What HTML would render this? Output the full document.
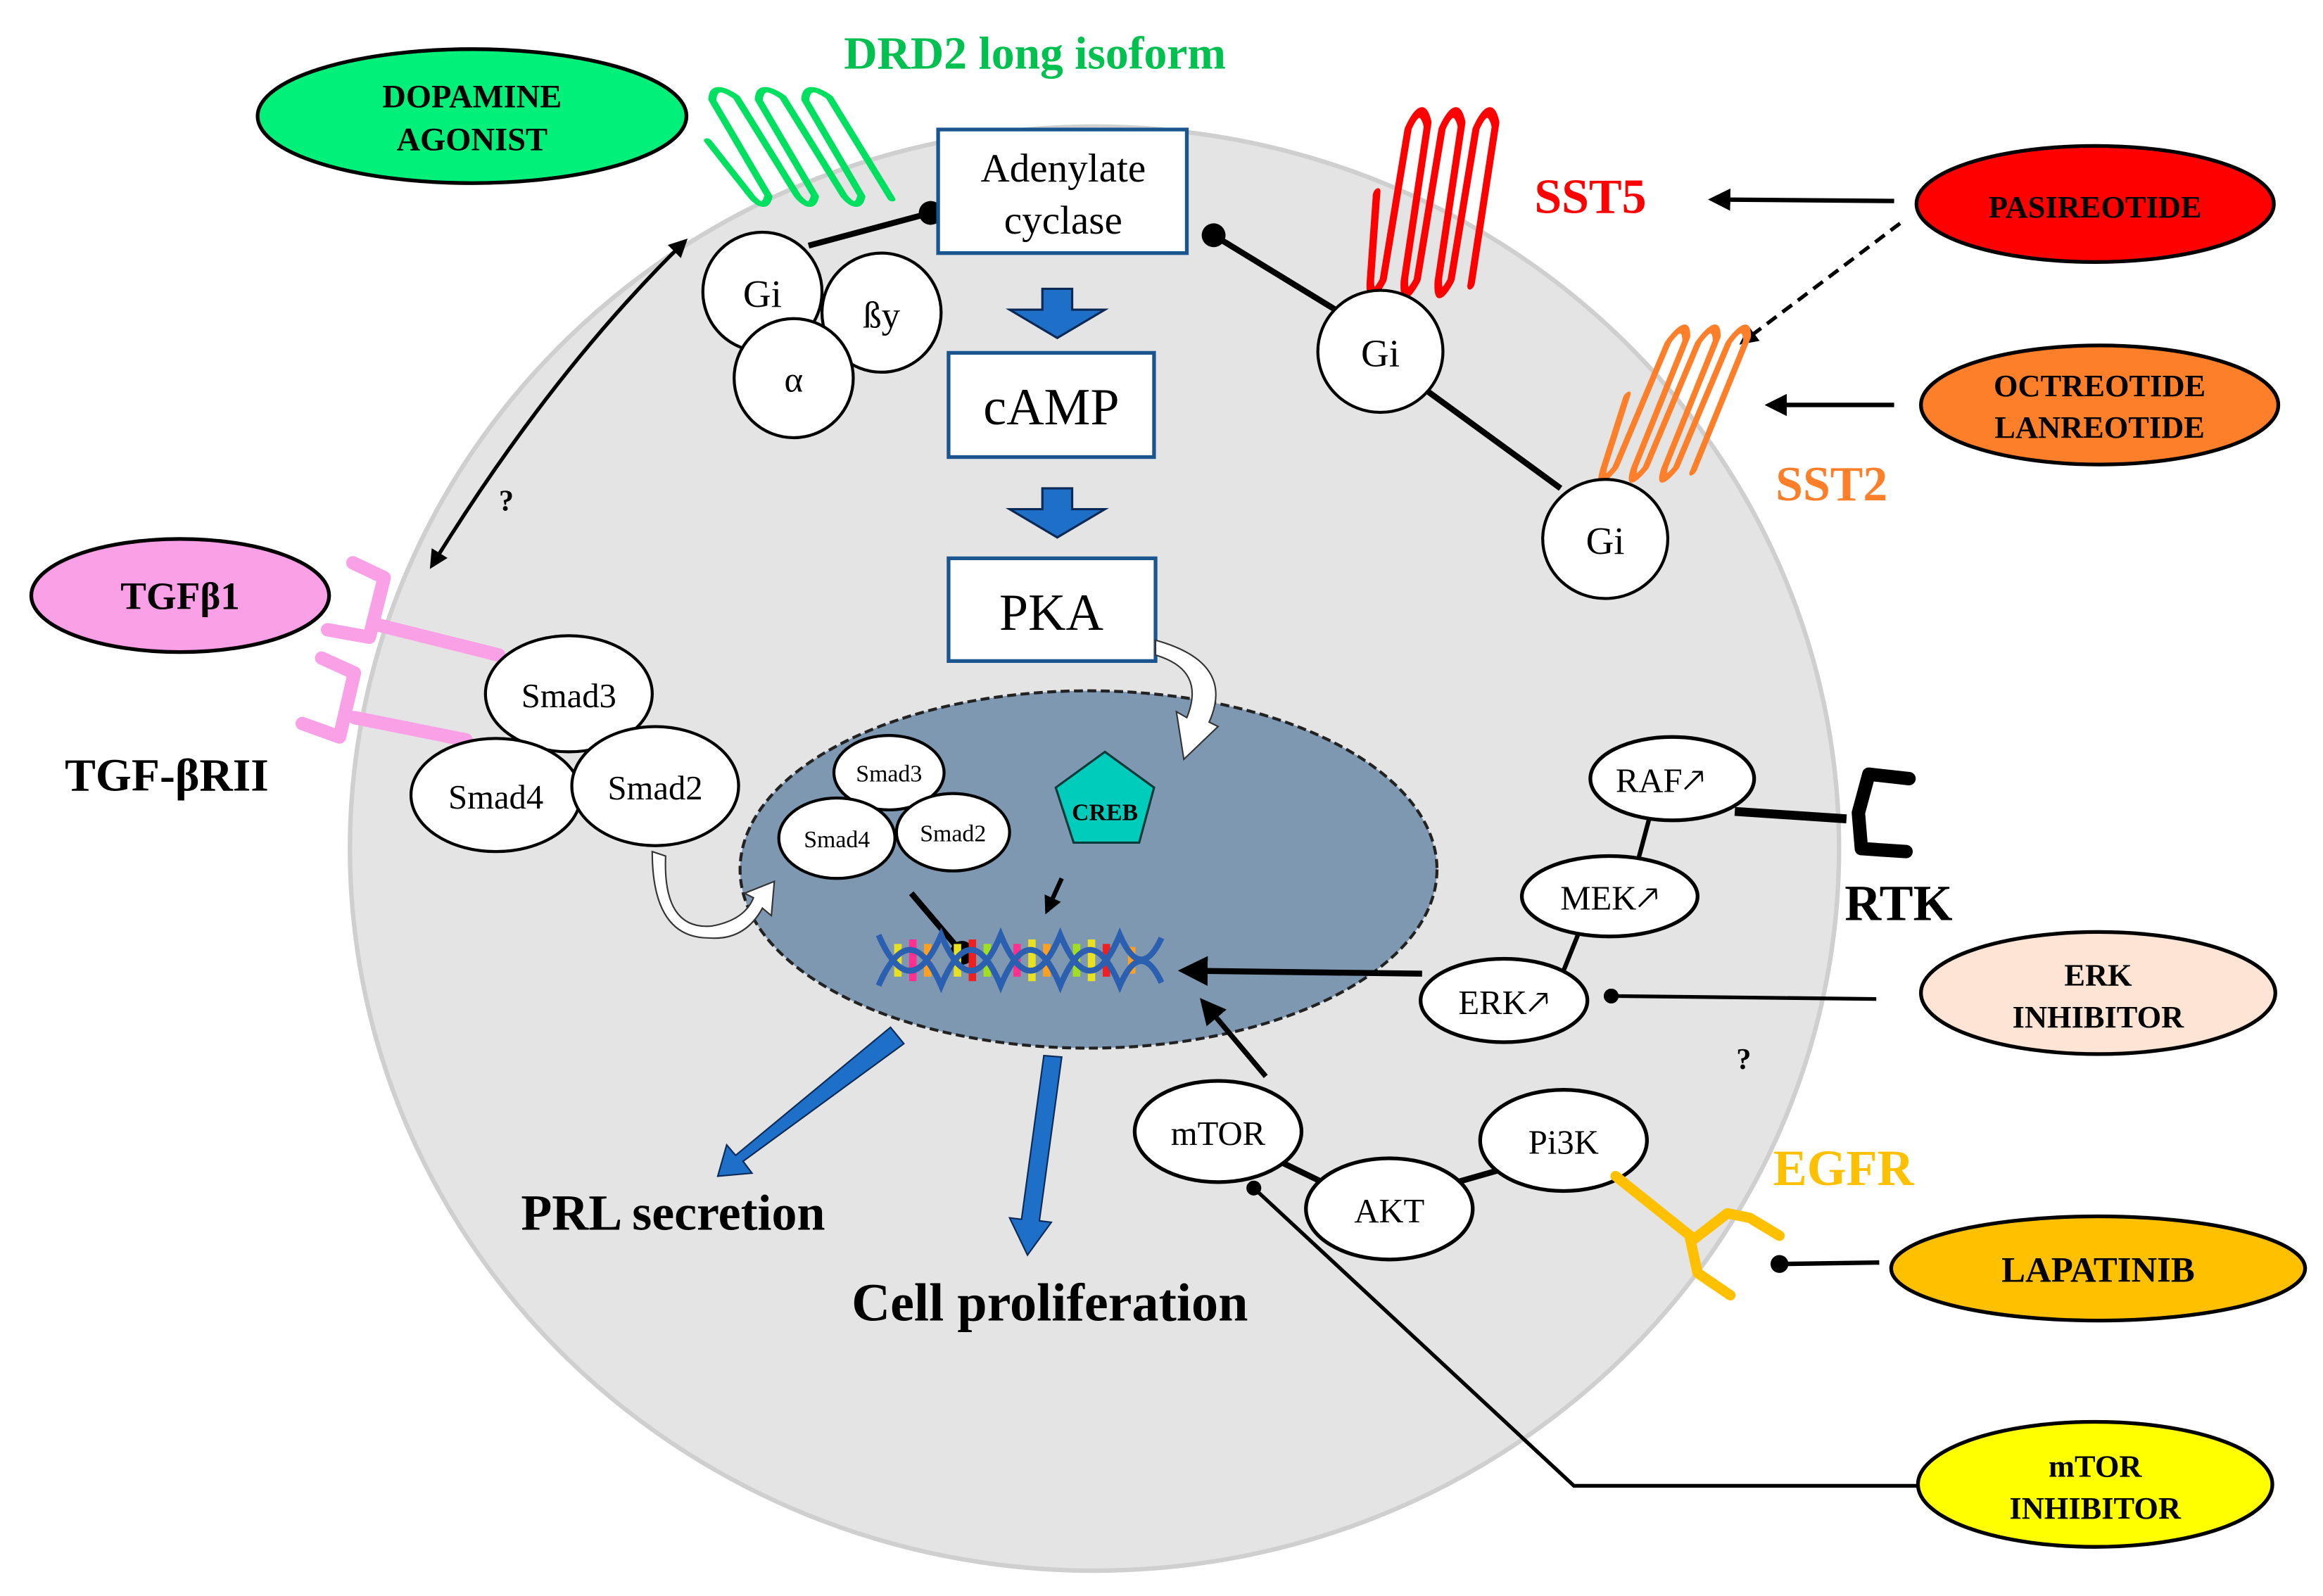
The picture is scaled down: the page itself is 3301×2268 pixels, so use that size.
<!DOCTYPE html>
<html><head><meta charset="utf-8"><style>
html,body{margin:0;padding:0;background:#fff;}
svg{display:block;}
text{font-family:"Liberation Serif",serif;}
</style></head><body>
<svg width="3301" height="2268" viewBox="0 0 1560 1072" preserveAspectRatio="none" xmlns="http://www.w3.org/2000/svg">
<defs>
<marker id="ah" viewBox="0 0 10 10" refX="8" refY="5" markerWidth="5" markerHeight="5" orient="auto-start-reverse"><path d="M0,0 L10,5 L0,10 z" fill="#000"/></marker>
<marker id="ahb" viewBox="0 0 10 10" refX="8" refY="5" markerWidth="4" markerHeight="4" orient="auto"><path d="M0,0 L10,5 L0,10 z" fill="#000"/></marker>
<marker id="dot" viewBox="0 0 10 10" refX="5" refY="5" markerWidth="4" markerHeight="4" orient="auto"><circle cx="5" cy="5" r="5" fill="#000"/></marker>
<path id="coil" d="M0,40 L12,80 Q16,92 21,80 L10,10 Q14,-4 23,8 L36,80 Q40,92 45,80 L34,10 Q38,-4 47,8 L60,80 Q64,92 69,80 L58,10 Q62,-4 71,8 L84,82" fill="none" stroke-linejoin="round" stroke-linecap="round"/>
</defs>

<ellipse cx="735" cy="570" rx="500" ry="485" fill="#e4e4e4" stroke="#cfcfcf" stroke-width="3"/>
<ellipse cx="731" cy="584" rx="234" ry="120" fill="#7f98b2" stroke="#222" stroke-width="2" stroke-dasharray="6,3"/>

<!-- DRD2 -->
<text x="695" y="46" font-size="31" font-weight="bold" fill="#00c050" text-anchor="middle">DRD2 long isoform</text>
<ellipse cx="317" cy="78" rx="144" ry="45" fill="#00f07a" stroke="#000" stroke-width="2.5"/>
<text x="317" y="72" font-size="22" font-weight="bold" text-anchor="middle">DOPAMINE</text>
<text x="317" y="101" font-size="22" font-weight="bold" text-anchor="middle">AGONIST</text>
<use href="#coil" transform="translate(462,58) skewX(20) scale(1.3,0.92)" stroke="#00e060" stroke-width="4"/>

<!-- Gi complex -->
<line x1="543" y1="165" x2="625" y2="143" stroke="#000" stroke-width="4" marker-end="url(#dot)"/>
<ellipse cx="512" cy="196" rx="40" ry="40" fill="#fff" stroke="#000" stroke-width="2"/>
<text x="512" y="206" font-size="26" text-anchor="middle">Gi</text>
<ellipse cx="592" cy="210" rx="40" ry="40" fill="#fff" stroke="#000" stroke-width="2"/>
<text x="592" y="220" font-size="25" text-anchor="middle">ßy</text>
<ellipse cx="533" cy="254" rx="40" ry="40" fill="#fff" stroke="#000" stroke-width="2"/>
<text x="533" y="263" font-size="24" text-anchor="middle">α</text>

<!-- AC / cAMP / PKA -->
<rect x="630" y="87" width="167" height="83" fill="#fff" stroke="#1a5590" stroke-width="2.5"/>
<text x="714" y="122" font-size="27" text-anchor="middle">Adenylate</text>
<text x="714" y="157" font-size="27" text-anchor="middle">cyclase</text>
<path d="M700,194 L720,194 L720,208 L742,208 L710,227 L678,208 L700,208 z" fill="#1e6fc8" stroke="#0a2a55" stroke-width="1.5"/>
<rect x="637" y="237" width="138" height="70" fill="#fff" stroke="#1a5590" stroke-width="2.5"/>
<text x="706" y="285" font-size="35" text-anchor="middle">cAMP</text>
<path d="M700,328 L720,328 L720,342 L742,342 L710,361 L678,342 L700,342 z" fill="#1e6fc8" stroke="#0a2a55" stroke-width="1.5"/>
<rect x="637" y="375" width="139" height="69" fill="#fff" stroke="#1a5590" stroke-width="2.5"/>
<text x="706" y="423" font-size="35" text-anchor="middle">PKA</text>
<path d="M776,430 Q830,445 812,485 L818,488 L795,510 L790,478 L797,482 Q810,450 776,440 z" fill="#fff" stroke="#333" stroke-width="1"/>

<!-- SST5 -->
<use href="#coil" transform="translate(940,72) skewX(-15) scale(0.95,1.45)" stroke="#ff0000" stroke-width="5"/>
<text x="1068" y="143" font-size="33" font-weight="bold" fill="#ff0000" text-anchor="middle">SST5</text>
<ellipse cx="1407" cy="137" rx="120" ry="39" fill="#ff0000" stroke="#000" stroke-width="2.5"/>
<text x="1407" y="146" font-size="21" font-weight="bold" text-anchor="middle">PASIREOTIDE</text>
<line x1="1272" y1="135" x2="1150" y2="134" stroke="#000" stroke-width="3" marker-end="url(#ah)"/>
<line x1="1276" y1="150" x2="1170" y2="230" stroke="#000" stroke-width="2.5" stroke-dasharray="8,5" marker-end="url(#ah)"/>

<!-- SST2 -->
<use href="#coil" transform="translate(1118,218) skewX(-28) scale(0.85,1.2)" stroke="#fe7f2a" stroke-width="5"/>
<text x="1230" y="336" font-size="33" font-weight="bold" fill="#fe7f2a" text-anchor="middle">SST2</text>
<ellipse cx="1410" cy="272" rx="120" ry="40" fill="#fe7f2a" stroke="#000" stroke-width="2.5"/>
<text x="1410" y="266" font-size="21" font-weight="bold" text-anchor="middle">OCTREOTIDE</text>
<text x="1410" y="294" font-size="21" font-weight="bold" text-anchor="middle">LANREOTIDE</text>
<line x1="1272" y1="272" x2="1188" y2="272" stroke="#000" stroke-width="3" marker-end="url(#ah)"/>

<!-- Gi right -->
<line x1="1048" y1="328" x2="948" y2="255" stroke="#000" stroke-width="4"/>
<line x1="900" y1="210" x2="815" y2="158" stroke="#000" stroke-width="4" marker-end="url(#dot)"/>
<ellipse cx="927" cy="236" rx="42" ry="41" fill="#fff" stroke="#000" stroke-width="2"/>
<text x="927" y="246" font-size="26" text-anchor="middle">Gi</text>
<ellipse cx="1078" cy="362" rx="42" ry="40" fill="#fff" stroke="#000" stroke-width="2"/>
<text x="1078" y="372" font-size="26" text-anchor="middle">Gi</text>

<path d="M290,380 Q370,250 460,162" fill="none" stroke="#000" stroke-width="2.5" marker-start="url(#ah)" marker-end="url(#ah)"/>
<text x="340" y="343" font-size="20" font-weight="bold" text-anchor="middle">?</text>

<!-- TGF -->
<ellipse cx="121" cy="400" rx="100" ry="38" fill="#f9a0e6" stroke="#000" stroke-width="2.5"/>
<text x="121" y="409" font-size="26" font-weight="bold" text-anchor="middle">TGFβ1</text>
<g fill="none" stroke="#f9a0e6" stroke-width="9" stroke-linecap="round" stroke-linejoin="round">
<path d="M237,378 L258,388 L248,428 L220,423"/>
<path d="M255,420 L335,440"/>
<path d="M216,442 L238,452 L228,495 L203,486"/>
<path d="M238,482 L313,497"/>
</g>
<text x="112" y="531" font-size="31" font-weight="bold" text-anchor="middle">TGF-βRII</text>
<ellipse cx="382" cy="466" rx="56" ry="39" fill="#fff" stroke="#000" stroke-width="2"/>
<text x="382" y="475" font-size="23" text-anchor="middle">Smad3</text>
<ellipse cx="333" cy="534" rx="57" ry="38" fill="#fff" stroke="#000" stroke-width="2"/>
<text x="333" y="543" font-size="23" text-anchor="middle">Smad4</text>
<ellipse cx="440" cy="528" rx="56" ry="40" fill="#fff" stroke="#000" stroke-width="2"/>
<text x="440" y="537" font-size="23" text-anchor="middle">Smad2</text>
<path d="M438,572 L447,575 Q445,625 478,622 Q500,618 506,603 L500,600 L520,592 L518,615 L512,610 Q500,632 476,630 Q438,630 438,572 z" fill="#fff" stroke="#333" stroke-width="1"/>

<!-- nucleus contents -->
<ellipse cx="597" cy="519" rx="37" ry="25" fill="#fff" stroke="#000" stroke-width="2"/>
<text x="597" y="525" font-size="16" text-anchor="middle">Smad3</text>
<ellipse cx="562" cy="563" rx="39" ry="27" fill="#fff" stroke="#000" stroke-width="2"/>
<text x="562" y="569" font-size="16" text-anchor="middle">Smad4</text>
<ellipse cx="640" cy="559" rx="38" ry="26" fill="#fff" stroke="#000" stroke-width="2"/>
<text x="640" y="565" font-size="16" text-anchor="middle">Smad2</text>
<polygon points="742,505 775,529 765,566 721,566 709,529" fill="#00ccbb" stroke="#0a3a3a" stroke-width="1.5"/>
<text x="742" y="551" font-size="16" font-weight="bold" text-anchor="middle">CREB</text>
<line x1="612" y1="600" x2="646" y2="640" stroke="#000" stroke-width="4" marker-end="url(#dot)"/>
<line x1="713" y1="590" x2="703" y2="612" stroke="#000" stroke-width="3" marker-end="url(#ahb)"/>
<g>
<g stroke-width="5">
<line x1="603" y1="634" x2="603" y2="656" stroke="#e8e020"/><line x1="613" y1="631" x2="613" y2="659" stroke="#ff3090"/><line x1="623" y1="634" x2="623" y2="656" stroke="#ffa020"/>
<line x1="643" y1="634" x2="643" y2="656" stroke="#e8e020"/><line x1="653" y1="631" x2="653" y2="659" stroke="#f02020"/><line x1="663" y1="634" x2="663" y2="656" stroke="#a0e020"/>
<line x1="683" y1="634" x2="683" y2="656" stroke="#ff3090"/><line x1="693" y1="631" x2="693" y2="659" stroke="#e8e020"/><line x1="703" y1="634" x2="703" y2="656" stroke="#ffa020"/>
<line x1="723" y1="634" x2="723" y2="656" stroke="#a0e020"/><line x1="733" y1="631" x2="733" y2="659" stroke="#e8e020"/><line x1="743" y1="634" x2="743" y2="656" stroke="#f02020"/>
<line x1="760" y1="636" x2="760" y2="654" stroke="#ffa020"/>
</g>
<path d="M590,628 Q611,676 632,628 Q652,676 672,628 Q692,676 712,628 Q732,676 752,628 Q766,660 780,630" fill="none" stroke="#2b5fb0" stroke-width="4"/>
<path d="M590,662 Q611,614 632,662 Q652,614 672,662 Q692,614 712,662 Q732,614 752,662 Q766,630 780,660" fill="none" stroke="#2b5fb0" stroke-width="4"/>
</g>

<path d="M598,690 L607,701 L499,780 L505,788 L482,790 L488,769 L494,776 z" fill="#1e6fc8" stroke="#0a2a55" stroke-width="1"/>
<path d="M701,709 L713,710 L698,820 L706,821 L690,843 L678,818 L686,819 z" fill="#1e6fc8" stroke="#0a2a55" stroke-width="1"/>
<text x="452" y="826" font-size="34" font-weight="bold" text-anchor="middle">PRL secretion</text>
<text x="705" y="887" font-size="36" font-weight="bold" text-anchor="middle">Cell proliferation</text>

<!-- MAPK -->
<line x1="1108" y1="548" x2="1100" y2="578" stroke="#000" stroke-width="3"/>
<line x1="1060" y1="627" x2="1050" y2="652" stroke="#000" stroke-width="3"/>
<ellipse cx="1123" cy="523" rx="55" ry="28" fill="#fff" stroke="#000" stroke-width="2.5"/>
<text x="1115" y="532" font-size="23" text-anchor="middle">RAF🡕</text>
<ellipse cx="1081" cy="602" rx="59" ry="27" fill="#fff" stroke="#000" stroke-width="2.5"/>
<text x="1081" y="611" font-size="23" text-anchor="middle">MEK🡕</text>
<ellipse cx="1010" cy="672" rx="56" ry="28" fill="#fff" stroke="#000" stroke-width="2.5"/>
<text x="1010" y="681" font-size="23" text-anchor="middle">ERK🡕</text>
<line x1="955" y1="654" x2="795" y2="652" stroke="#000" stroke-width="4" marker-end="url(#ah)"/>
<path d="M1165,545 L1240,550" stroke="#000" stroke-width="6"/>
<path d="M1282,523 L1255,520 L1248,546 L1250,570 L1280,572" fill="none" stroke="#000" stroke-width="9" stroke-linecap="round" stroke-linejoin="round"/>
<text x="1275" y="618" font-size="34" font-weight="bold" text-anchor="middle">RTK</text>
<ellipse cx="1409" cy="667" rx="119" ry="41" fill="#fde4d4" stroke="#000" stroke-width="2.5"/>
<text x="1409" y="662" font-size="21" font-weight="bold" text-anchor="middle">ERK</text>
<text x="1409" y="690" font-size="21" font-weight="bold" text-anchor="middle">INHIBITOR</text>
<line x1="1260" y1="671" x2="1082" y2="669" stroke="#000" stroke-width="2.5" marker-end="url(#dot)"/>
<text x="1171" y="718" font-size="20" font-weight="bold" text-anchor="middle">?</text>

<!-- PI3K -->
<line x1="855" y1="778" x2="890" y2="795" stroke="#000" stroke-width="4"/>
<line x1="975" y1="795" x2="1010" y2="785" stroke="#000" stroke-width="4"/>
<line x1="850" y1="723" x2="808" y2="673" stroke="#000" stroke-width="3.5" marker-end="url(#ah)"/>
<ellipse cx="818" cy="760" rx="56" ry="34" fill="#fff" stroke="#000" stroke-width="2.5"/>
<text x="818" y="769" font-size="23" text-anchor="middle">mTOR</text>
<ellipse cx="933" cy="812" rx="56" ry="34" fill="#fff" stroke="#000" stroke-width="2.5"/>
<text x="933" y="821" font-size="23" text-anchor="middle">AKT</text>
<ellipse cx="1050" cy="766" rx="56" ry="34" fill="#fff" stroke="#000" stroke-width="2.5"/>
<text x="1050" y="775" font-size="23" text-anchor="middle">Pi3K</text>
<path d="M1085,790 L1135,830 M1138,832 L1160,815 L1175,818 L1195,830 M1135,832 L1140,855 L1162,870" fill="none" stroke="#ffc000" stroke-width="7" stroke-linecap="round" stroke-linejoin="round"/>
<text x="1238" y="796" font-size="34" font-weight="bold" fill="#ffc000" text-anchor="middle">EGFR</text>
<ellipse cx="1409" cy="852" rx="139" ry="35" fill="#ffc000" stroke="#000" stroke-width="2.5"/>
<text x="1409" y="861" font-size="24" font-weight="bold" text-anchor="middle">LAPATINIB</text>
<line x1="1262" y1="848" x2="1195" y2="849" stroke="#000" stroke-width="3" marker-end="url(#dot)"/>
<ellipse cx="1407" cy="997" rx="119" ry="42" fill="#ffff00" stroke="#000" stroke-width="2.5"/>
<text x="1407" y="992" font-size="21" font-weight="bold" text-anchor="middle">mTOR</text>
<text x="1407" y="1020" font-size="21" font-weight="bold" text-anchor="middle">INHIBITOR</text>
<path d="M1287,998 L1057,998 L842,798" fill="none" stroke="#000" stroke-width="2.5" marker-end="url(#dot)"/>
</svg>
</body></html>
